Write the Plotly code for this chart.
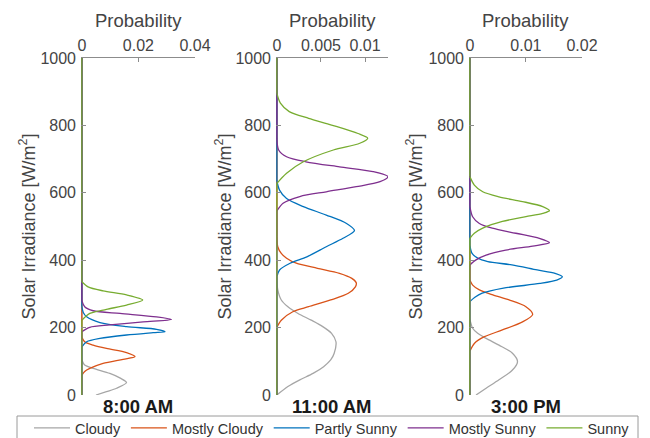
import plotly.graph_objects as go

# ---------------- data ----------------
series_names = ["Cloudy", "Mostly Cloudy", "Partly Sunny", "Mostly Sunny", "Sunny"]
series_colors = ["#a6a6a6", "#d95319", "#0072bd", "#7e2f8e", "#77ac30"]
panel_titles = ["8:00 AM", "11:00 AM", "3:00 PM"]

y_tickvals = [0, 200, 400, 600, 800, 1000]
y_max = 1000

# Each curve: irradiance values over its non-zero support (first/last point where it touches 0)
# 8:00 AM
am8_cloudy_irr = [0, 10, 20, 37, 50, 64, 79, 89, 104]
am8_cloudy_prob = [0.005, 0.0087, 0.0123, 0.0158, 0.0136, 0.0099, 0.004, 0.001, 0]
am8_mcloudy_irr = [59, 70, 79, 94, 106, 114, 126, 138, 148, 158, 171]
am8_mcloudy_prob = [0, 0.001, 0.0028, 0.0075, 0.0146, 0.0188, 0.0158, 0.0087, 0.004, 0.001, 0]
am8_psunny_irr = [143, 158, 168, 178, 185, 188, 195, 203, 215, 232, 245, 262]
am8_psunny_prob = [0, 0.0017, 0.0064, 0.0158, 0.0252, 0.0294, 0.0264, 0.0158, 0.0064, 0.0017, 0.0005, 0]
am8_msunny_irr = [188, 201, 208, 217, 224, 232, 242, 250, 262, 280]
am8_msunny_prob = [0, 0.0028, 0.0099, 0.0217, 0.0317, 0.0264, 0.0135, 0.004, 0.001, 0]
am8_sunny_irr = [222, 242, 254, 267, 282, 297, 309, 321, 336]
am8_sunny_prob = [0, 0.0028, 0.0087, 0.0158, 0.0215, 0.0158, 0.0075, 0.0022, 0]

# 11:00 AM
am11_cloudy_irr = [0, 25, 45, 64, 84, 104, 124, 158, 183, 203, 222, 242, 262, 282, 312, 341]
am11_cloudy_prob = [0, 0.00125, 0.0026, 0.0041, 0.0053, 0.0061, 0.0065, 0.0067, 0.0062, 0.0052, 0.0039, 0.0024, 0.00125, 0.0005, 0.0001, 0]
am11_mcloudy_irr = [201, 222, 247, 262, 282, 302, 321, 333, 346, 361, 376, 391, 406, 420, 440, 470]
am11_mcloudy_prob = [0, 0.0005, 0.0018, 0.0036, 0.0061, 0.0081, 0.0089, 0.0090, 0.0085, 0.0071, 0.0046, 0.0022, 0.0011, 0.0005, 0.0001, 0]
am11_psunny_irr = [351, 371, 391, 410, 440, 465, 488, 509, 534, 559, 583, 608, 635]
am11_psunny_prob = [0, 0.0003, 0.0015, 0.0034, 0.0056, 0.0075, 0.0088, 0.0079, 0.0056, 0.0030, 0.0011, 0.0003, 0]
am11_msunny_irr = [546, 569, 589, 603, 618, 633, 648, 663, 677, 692, 707, 727, 760]
am11_msunny_prob = [0, 0.0007, 0.0026, 0.0056, 0.0090, 0.0117, 0.0126, 0.0109, 0.0071, 0.0033, 0.0011, 0.0002, 0]
am11_sunny_irr = [628, 658, 692, 727, 747, 762, 776, 801, 821, 841, 866, 895]
am11_sunny_prob = [0, 0.0011, 0.0030, 0.0064, 0.0094, 0.0103, 0.0092, 0.0062, 0.0036, 0.0014, 0.0004, 0]

# 3:00 PM
pm3_cloudy_irr = [0, 20, 45, 74, 99, 124, 148, 168, 183, 198, 225]
pm3_cloudy_prob = [0.0011, 0.0029, 0.0052, 0.0076, 0.0085, 0.0076, 0.0052, 0.0029, 0.0014, 0.0005, 0]
pm3_mcloudy_irr = [130, 153, 173, 193, 217, 239, 262, 282, 297, 312, 326, 341]
pm3_mcloudy_prob = [0, 0.0008, 0.0026, 0.0058, 0.0094, 0.0112, 0.0100, 0.0070, 0.0041, 0.0017, 0.0005, 0]
pm3_psunny_irr = [277, 290, 302, 317, 331, 341, 351, 361, 371, 386, 396, 406, 420, 445]
pm3_psunny_prob = [0, 0.0009, 0.0022, 0.0060, 0.0125, 0.0155, 0.0165, 0.0152, 0.0120, 0.0075, 0.0032, 0.0014, 0.0004, 0]
pm3_msunny_irr = [386, 401, 415, 430, 442, 452, 465, 480, 495, 509, 529, 560]
pm3_msunny_prob = [0, 0.0011, 0.0029, 0.0064, 0.0112, 0.0142, 0.0124, 0.0082, 0.0040, 0.0017, 0.0005, 0]
pm3_sunny_irr = [465, 480, 495, 515, 529, 539, 547, 559, 574, 588, 603, 623, 648]
pm3_sunny_prob = [0, 0.0008, 0.0023, 0.0058, 0.0100, 0.0130, 0.0142, 0.0130, 0.0094, 0.0052, 0.0023, 0.0008, 0]

panel_x_ranges = [[-0.0003, 0.04], [-0.0001, 0.0126], [-0.00015, 0.02]]
panel_x_ticks = [[0, 0.02, 0.04], [0, 0.005, 0.01], [0, 0.01, 0.02]]
panel_x_ticktext = [["0", "0.02", "0.04"], ["0", "0.005", "0.01"], ["0", "0.01", "0.02"]]

panels = [
    [(am8_cloudy_irr, am8_cloudy_prob), (am8_mcloudy_irr, am8_mcloudy_prob),
     (am8_psunny_irr, am8_psunny_prob), (am8_msunny_irr, am8_msunny_prob),
     (am8_sunny_irr, am8_sunny_prob)],
    [(am11_cloudy_irr, am11_cloudy_prob), (am11_mcloudy_irr, am11_mcloudy_prob),
     (am11_psunny_irr, am11_psunny_prob), (am11_msunny_irr, am11_msunny_prob),
     (am11_sunny_irr, am11_sunny_prob)],
    [(pm3_cloudy_irr, pm3_cloudy_prob), (pm3_mcloudy_irr, pm3_mcloudy_prob),
     (pm3_psunny_irr, pm3_psunny_prob), (pm3_msunny_irr, pm3_msunny_prob),
     (pm3_sunny_irr, pm3_sunny_prob)],
]

# ---------------- layout geometry (pixels) ----------------
W, H = 650, 438
px_domains = [(81, 195), (276, 388), (469, 582)]
y_top_px, y_bot_px = 58, 395
ytitle_px = [28, 224, 415]

FONT = "Liberation Sans, Arial, Helvetica, sans-serif"
TXT = "#444444"
AXC = "#8c8c8c"
LW = 1.3

fig = go.Figure()

for i, curves in enumerate(panels):
    sfx = "" if i == 0 else str(i + 1)
    for k, (irr, prob) in enumerate(curves):
        col = series_colors[k]
        # zero part of the density along the axis (below and above the support)
        base_y = []
        if irr[0] > 0:
            base_y += [0, irr[0], None]
        base_y += [irr[-1], y_max]
        base_x = [0 if v is not None else None for v in base_y]
        fig.add_trace(go.Scatter(
            x=base_x, y=base_y, mode="lines", line=dict(color=col, width=LW),
            showlegend=False, legendgroup=series_names[k], connectgaps=False,
            xaxis="x" + sfx, yaxis="y" + sfx, hoverinfo="skip"))
        fig.add_trace(go.Scatter(
            x=prob, y=irr, mode="lines",
            line=dict(color=col, width=LW, shape="spline", smoothing=0.8),
            name=series_names[k], showlegend=(i == 0), legendgroup=series_names[k],
            xaxis="x" + sfx, yaxis="y" + sfx, hoverinfo="skip"))

layout = dict(
    width=W, height=H,
    margin=dict(l=0, r=0, t=0, b=0, autoexpand=False),
    paper_bgcolor="white", plot_bgcolor="white",
    font=dict(family=FONT, size=16, color=TXT),
    showlegend=True,
    legend=dict(
        orientation="h", x=332 / W, xanchor="center",
        y=(H - 412) / H, yanchor="top",
        borderwidth=0, bgcolor="rgba(0,0,0,0)",
        font=dict(family=FONT, size=14.5, color="#333333"),
        itemwidth=36,
    ),
    shapes=[dict(type="rect", xref="paper", yref="paper",
                 x0=17 / W, x1=638 / W, y0=(H - 446) / H, y1=(H - 416) / H,
                 line=dict(color="#9a9a9a", width=1), fillcolor="rgba(0,0,0,0)",
                 layer="below")],
    annotations=[],
)

ydom = [(H - y_bot_px) / H, (H - y_top_px) / H]
for i in range(3):
    sfx = "" if i == 0 else str(i + 1)
    l, r = px_domains[i]
    layout["xaxis" + sfx] = dict(
        domain=[l / W, r / W], range=panel_x_ranges[i], side="top",
        anchor="y" + sfx, showline=True, linecolor=AXC, linewidth=1,
        ticks="inside", ticklen=4, tickcolor=AXC,
        tickvals=panel_x_ticks[i], ticktext=panel_x_ticktext[i],
        showgrid=False, zeroline=False, fixedrange=True,
        tickfont=dict(size=16, color=TXT),
    )
    layout["yaxis" + sfx] = dict(
        domain=ydom, range=[0, y_max], anchor="x" + sfx,
        showline=False, ticks="inside", ticklen=5, tickcolor=AXC,
        tickvals=y_tickvals, ticktext=[str(v) for v in y_tickvals],
        showgrid=False, zeroline=False, fixedrange=True,
        tickfont=dict(size=16, color=TXT), ticklabelstandoff=4,
    )
    cx = (l + r) / 2 / W
    layout["annotations"].append(dict(
        text="Probability", x=cx, y=(H - 20) / H, xref="paper", yref="paper",
        showarrow=False, xanchor="center", yanchor="middle",
        font=dict(size=18.5, color=TXT, family=FONT)))
    layout["annotations"].append(dict(
        text="<b>" + panel_titles[i] + "</b>", x=cx, y=(H - 406) / H,
        xref="paper", yref="paper", showarrow=False,
        xanchor="center", yanchor="middle",
        font=dict(size=18.5, color="#1a1a1a", family=FONT)))
    layout["annotations"].append(dict(
        text="Solar Irradiance [W/m<sup>2</sup>]", x=ytitle_px[i] / W,
        y=(H - (y_top_px + y_bot_px) / 2) / H, xref="paper", yref="paper",
        showarrow=False, xanchor="center", yanchor="middle", textangle=-90,
        font=dict(size=18, color=TXT, family=FONT)))

fig.update_layout(**layout)
fig.write_html("out.html", config={"displayModeBar": False},
               post_script="document.body.style.margin='0px';document.body.style.overflow='hidden';")
